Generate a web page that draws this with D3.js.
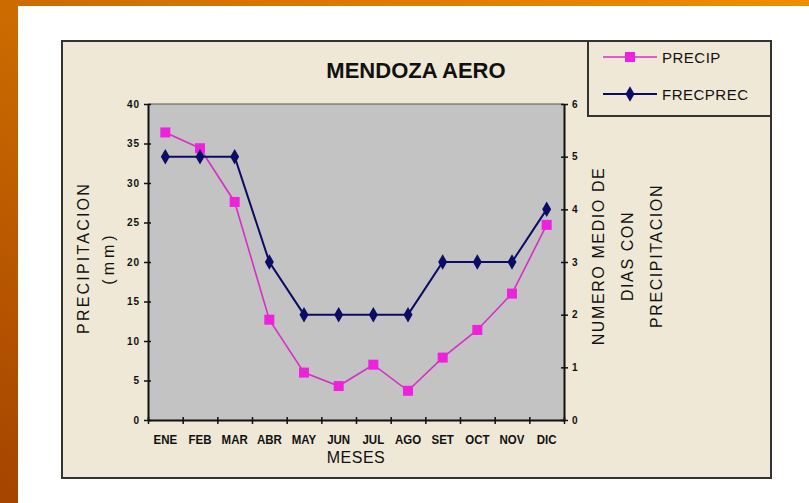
<!DOCTYPE html>
<html>
<head>
<meta charset="utf-8">
<script src="https://cdn.jsdelivr.net/npm/d3@7"></script>
<style>
  html, body { margin: 0; padding: 0; background: #fff; }
  svg { display: block; }
  text { font-family: "Liberation Sans", Arial, sans-serif; }
</style>
</head>
<body>
<svg id="chart" width="809" height="503"></svg>
<script>
// Monthly climate data, Mendoza Aero
const months = ["ENE", "FEB", "MAR", "ABR", "MAY", "JUN", "JUL", "AGO", "SET", "OCT", "NOV", "DIC"];
const precip = [36.4, 34.4, 27.6, 12.7, 6.0, 4.3, 7.0, 3.7, 7.9, 11.4, 16.0, 24.7];
const frecPrec = [5, 5, 5, 3, 2, 2, 2, 2, 3, 3, 3, 4];
const leftTicks = [0, 5, 10, 15, 20, 25, 30, 35, 40];
const rightTicks = [0, 1, 2, 3, 4, 5, 6];

const svg = d3.select("#chart");
const defs = svg.append("defs");

// slide background
const bg = defs.append("linearGradient").attr("id", "slideBg")
  .attr("x1", "0").attr("y1", "1").attr("x2", "1").attr("y2", "0");
bg.append("stop").attr("offset", "0").attr("stop-color", "#a44400");
bg.append("stop").attr("offset", "0.45").attr("stop-color", "#c86800");
bg.append("stop").attr("offset", "1").attr("stop-color", "#ee8e00");
svg.append("rect").attr("width", 809).attr("height", 503).attr("fill", "url(#slideBg)");
svg.append("rect").attr("x", 18).attr("y", 6).attr("width", 791).attr("height", 497).attr("fill", "#ffffff");

// chart panel
const panelFill = "#efe8d6";
svg.append("rect").attr("x", 62).attr("y", 41).attr("width", 709).attr("height", 437)
  .attr("fill", panelFill).attr("stroke", "#333").attr("stroke-width", 2);

// plot area
const plot = { left: 148, right: 564, top: 104, bottom: 420 };
svg.append("rect").attr("x", plot.left).attr("y", plot.top)
  .attr("width", plot.right - plot.left).attr("height", plot.bottom - plot.top)
  .attr("fill", "#c3c3c3");
svg.append("line").attr("x1", plot.left).attr("x2", plot.right)
  .attr("y1", plot.top).attr("y2", plot.top).attr("stroke", "#555").attr("stroke-width", 1.2);

const x = d3.scaleBand().domain(months).range([plot.left, plot.right]);
const xEdge = d3.scaleLinear().domain([0, months.length]).range([plot.left, plot.right]);
const yL = d3.scaleLinear().domain([0, 40]).range([plot.bottom, plot.top]);
const yR = d3.scaleLinear().domain([0, 6]).range([plot.bottom, plot.top]);

function styleAxis(g) {
  g.select(".domain").attr("stroke", "#111").attr("stroke-width", 2);
  g.selectAll(".tick line").attr("stroke", "#111").attr("stroke-width", 1.5);
  g.selectAll(".tick text").attr("fill", "#111").style("font-weight", "bold")
    .style("font-size", "10px").style("letter-spacing", "1px");
}

// left axis
const gL = svg.append("g").attr("transform", `translate(${plot.left},0)`)
  .call(d3.axisLeft(yL).tickValues(leftTicks).tickFormat(d3.format("d"))
    .tickSize(4).tickSizeOuter(0).tickPadding(4));
styleAxis(gL);
gL.selectAll(".tick line").attr("x1", 3).attr("x2", -4);

// right axis
const gR = svg.append("g").attr("transform", `translate(${plot.right},0)`)
  .call(d3.axisRight(yR).tickValues(rightTicks).tickFormat(d3.format("d"))
    .tickSize(4).tickSizeOuter(0).tickPadding(4));
styleAxis(gR);
gR.selectAll(".tick line").attr("x1", -3).attr("x2", 4);

// bottom axis: ticks on category edges, labels on category centres
const gB = svg.append("g").attr("transform", `translate(0,${plot.bottom})`)
  .call(d3.axisBottom(xEdge).ticks(months.length).tickSize(4).tickSizeOuter(0).tickFormat(""));
styleAxis(gB);
gB.selectAll(".tick line").attr("y1", -3).attr("y2", 4);

const gBL = svg.append("g").attr("transform", `translate(0,${plot.bottom})`)
  .call(d3.axisBottom(x).tickSize(0).tickPadding(14));
gBL.select(".domain").remove();
gBL.selectAll(".tick text").attr("fill", "#111").style("font-weight", "bold")
  .style("font-size", "11.5px").attr("transform", "scale(1,1.1)");

// title
svg.append("text").attr("x", 416).attr("y", 78).attr("text-anchor", "middle")
  .style("font-size", "22px").style("font-weight", "bold").attr("fill", "#111")
  .text("MENDOZA AERO");

// axis titles
svg.append("text").attr("x", 356).attr("y", 463).attr("text-anchor", "middle")
  .style("font-size", "16px").style("letter-spacing", "0.5px").attr("fill", "#111").text("MESES");

const leftTitle = svg.append("g").attr("transform", "translate(0,258) rotate(-90)");
leftTitle.append("text").attr("x", 0).attr("y", 89).attr("text-anchor", "middle")
  .style("font-size", "16px").style("letter-spacing", "2.2px").attr("fill", "#111").text("PRECIPITACION");
leftTitle.append("text").attr("x", 0).attr("y", 114).attr("text-anchor", "middle")
  .style("font-size", "16px").style("letter-spacing", "4px").attr("fill", "#111").text("(mm)");

const rightLines = ["NUMERO MEDIO DE", "DIAS CON", "PRECIPITACION"];
const rightTitle = svg.append("g").attr("transform", "translate(0,256) rotate(-90)");
rightTitle.selectAll("text").data(rightLines).join("text")
  .attr("x", 0).attr("y", (d, i) => 604 + i * 29).attr("text-anchor", "middle")
  .style("font-size", "16px").style("letter-spacing", "1.6px").attr("fill", "#111").text(d => d);

// series
const pink = "#ee22dd";
const navy = "#0c0c66";
const cx = d => x(d) + x.bandwidth() / 2;

const linePrecip = d3.line().x((d, i) => cx(months[i])).y(d => yL(d));
const lineFrec = d3.line().x((d, i) => cx(months[i])).y(d => yR(d));

svg.append("path").datum(precip).attr("d", linePrecip)
  .attr("fill", "none").attr("stroke", "#d530c8").attr("stroke-width", 1.6);
svg.append("path").datum(frecPrec).attr("d", lineFrec)
  .attr("fill", "none").attr("stroke", navy).attr("stroke-width", 2);

const sq = 10;
svg.append("g").selectAll("rect").data(precip).join("rect")
  .attr("x", (d, i) => cx(months[i]) - sq / 2).attr("y", d => yL(d) - sq / 2)
  .attr("width", sq).attr("height", sq).attr("fill", pink);

const diamond = d3.symbol().type(d3.symbolDiamond).size(70);
svg.append("g").selectAll("path").data(frecPrec).join("path")
  .attr("transform", (d, i) => `translate(${cx(months[i])},${yR(d)})`)
  .attr("d", diamond).attr("fill", navy);

// legend
const lg = svg.append("g");
lg.append("rect").attr("x", 588).attr("y", 41).attr("width", 183).attr("height", 75)
  .attr("fill", panelFill).attr("stroke", "#333").attr("stroke-width", 2);
const legendItems = [
  { name: "PRECIP", color: "#d530c8", y: 57, marker: "square" },
  { name: "FRECPREC", color: navy, y: 94, marker: "diamond" }
];
legendItems.forEach(it => {
  lg.append("line").attr("x1", 603).attr("x2", 657).attr("y1", it.y).attr("y2", it.y)
    .attr("stroke", it.color).attr("stroke-width", it.marker === "square" ? 1.6 : 2);
  if (it.marker === "square") {
    lg.append("rect").attr("x", 630 - sq / 2).attr("y", it.y - sq / 2)
      .attr("width", sq).attr("height", sq).attr("fill", pink);
  } else {
    lg.append("path").attr("transform", `translate(630,${it.y})`).attr("d", diamond).attr("fill", navy);
  }
  lg.append("text").attr("x", 662).attr("y", it.y + 5.5)
    .style("font-size", "15px").style("letter-spacing", "0.5px").attr("fill", "#111").text(it.name);
});
</script>
</body>
</html>
